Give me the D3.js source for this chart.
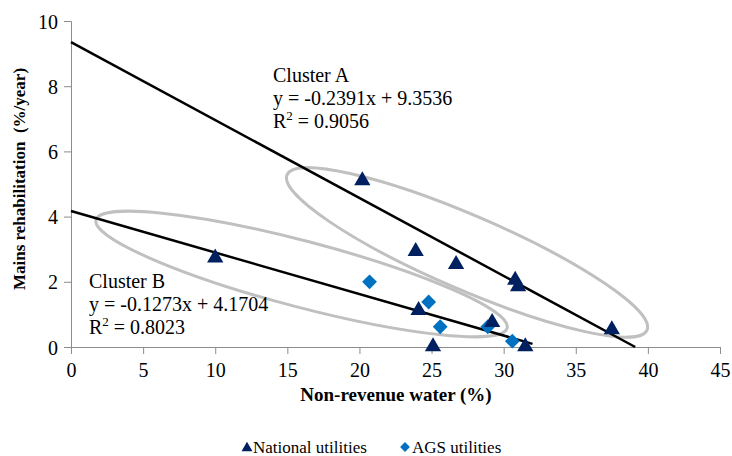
<!DOCTYPE html>
<html>
<head>
<meta charset="utf-8">
<script src="https://cdn.jsdelivr.net/npm/d3@7"></script>
<style>
  body { margin: 0; background: #fff; }
  svg text { font-family: "Liberation Serif", "Times New Roman", serif !important; fill: #000; }
</style>
</head>
<body>
<div id="chart"></div>
<script>
// national utilities (triangles)
const nationalX = [20.2, 10.0, 23.9, 26.7, 30.8, 31.0, 37.5, 24.1, 29.2, 25.1, 31.5];
const nationalY = [5.15, 2.78, 2.98, 2.58, 2.10, 1.90, 0.58, 1.17, 0.80, 0.06, 0.06];
// AGS utilities (diamonds)
const agsX = [20.7, 24.8, 25.6, 28.9, 30.6];
const agsY = [2.00, 1.38, 0.62, 0.62, 0.18];

const xTicks = [0, 5, 10, 15, 20, 25, 30, 35, 40, 45];
const yTicks = [0, 2, 4, 6, 8, 10];

// trend lines: [slope, intercept, xStart, xEnd]
const trendA = [-0.2391, 9.3536, 0, 39.12];
const trendB = [-0.1273, 4.1704, 0, 32];

// cluster ellipses: end points in data units [x1, y1, x2, y2]
const ellipseA = [14.98, 5.28, 39.94, 0.52];
const ellipseB = [1.73, 3.90, 30.24, 0.58];

const labelA = ["Cluster A", "y = -0.2391x + 9.3536", "0.9056"];
const labelB = ["Cluster B", "y = -0.1273x + 4.1704", "0.8023"];

const serif = '"Liberation Serif", "Times New Roman", serif';

const margin = {top: 21, right: 12, bottom: 109, left: 71};
const W = 732, H = 456;
const width = W - margin.left - margin.right;
const height = H - margin.top - margin.bottom;

const svg = d3.select("#chart").append("svg")
  .attr("width", W)
  .attr("height", H)
  .style("font-family", serif);

const g = svg.append("g")
  .attr("transform", `translate(${margin.left},${margin.top})`);

const x = d3.scaleLinear().domain([0, 45]).range([0, width]);
const y = d3.scaleLinear().domain([0, 10]).range([height, 0]);

// axes
const xAxis = g.append("g")
  .attr("transform", `translate(0,${height})`)
  .call(d3.axisBottom(x).tickValues(xTicks).tickSize(7).tickPadding(6));
const yAxis = g.append("g")
  .call(d3.axisLeft(y).tickValues(yTicks).tickSize(7).tickPadding(6));

[xAxis, yAxis].forEach(a => {
  a.attr("font-family", null).attr("font-size", null);
  a.selectAll("path, line").attr("stroke", "#8c8c8c");
  a.selectAll("text")
    .style("font-size", "20px")
    .attr("fill", "#000");
});
xAxis.selectAll("text").attr("dy", "0.85em");
yAxis.selectAll("text").attr("dy", "0.35em");

// ellipses
function drawEllipse(e, ry) {
  const x1 = x(e[0]), y1 = y(e[1]), x2 = x(e[2]), y2 = y(e[3]);
  const cx = (x1 + x2) / 2, cy = (y1 + y2) / 2;
  const rx = Math.hypot(x2 - x1, y2 - y1) / 2;
  const ang = Math.atan2(y2 - y1, x2 - x1) * 180 / Math.PI;
  g.append("ellipse")
    .attr("transform", `translate(${cx},${cy}) rotate(${ang})`)
    .attr("rx", rx)
    .attr("ry", ry)
    .attr("fill", "none")
    .attr("stroke", "#c0c0c0")
    .attr("stroke-width", 3);
}
drawEllipse(ellipseA, 37);
drawEllipse(ellipseB, 33);

// trend lines
[trendA, trendB].forEach(t => {
  g.append("line")
    .attr("x1", x(t[2])).attr("y1", y(t[0] * t[2] + t[1]))
    .attr("x2", x(t[3])).attr("y2", y(t[0] * t[3] + t[1]))
    .attr("stroke", "#000")
    .attr("stroke-width", 2.5);
});

// markers
const tri = d3.symbol().type(d3.symbolTriangle).size(115);
const sq = d3.symbol().type(d3.symbolSquare).size(110);

g.selectAll(".ags")
  .data(agsX.map((d, i) => [d, agsY[i]]))
  .join("path")
  .attr("class", "ags")
  .attr("d", sq)
  .attr("transform", d => `translate(${x(d[0])},${y(d[1])}) rotate(45)`)
  .attr("fill", "#0070c0");

g.selectAll(".nat")
  .data(nationalX.map((d, i) => [d, nationalY[i]]))
  .join("path")
  .attr("class", "nat")
  .attr("d", tri)
  .attr("transform", d => `translate(${x(d[0])},${y(d[1]) + 1.5})`)
  .attr("fill", "#002060");

// cluster labels
function clusterLabel(lines, px, py) {
  const t = svg.append("g").style("font-size", "20px");
  t.append("text").attr("x", px).attr("y", py).text(lines[0]);
  t.append("text").attr("x", px).attr("y", py + 23).text(lines[1]);
  const r = t.append("text").attr("x", px).attr("y", py + 46);
  r.append("tspan").text("R");
  r.append("tspan").style("font-size", "13px").attr("dy", -8).text("2");
  r.append("tspan").attr("dy", 8).text(" = " + lines[2]);
}
clusterLabel(labelA, 273, 82);
clusterLabel(labelB, 89, 288);

// axis titles
svg.append("text")
  .attr("x", 396)
  .attr("y", 401)
  .attr("text-anchor", "middle")
  .style("font-size", "19px")
  .style("font-weight", "bold")
  .text("Non-revenue water (%)");

svg.append("text")
  .attr("transform", "translate(25,179) rotate(-90)")
  .attr("text-anchor", "middle")
  .style("font-size", "17px")
  .style("font-weight", "bold")
  .style("white-space", "pre")
  .text("Mains rehabilitation  (%/year)");

// legend
const legend = svg.append("g").style("font-size", "17px");
legend.append("path")
  .attr("d", d3.symbol().type(d3.symbolTriangle).size(52))
  .attr("transform", "translate(247,448)")
  .attr("fill", "#002060");
legend.append("text").attr("x", 253).attr("y", 453).text("National utilities");
legend.append("path")
  .attr("d", d3.symbol().type(d3.symbolSquare).size(48))
  .attr("transform", "translate(405,447) rotate(45)")
  .attr("fill", "#0070c0");
legend.append("text").attr("x", 412).attr("y", 453).text("AGS utilities");
</script>
</body>
</html>
